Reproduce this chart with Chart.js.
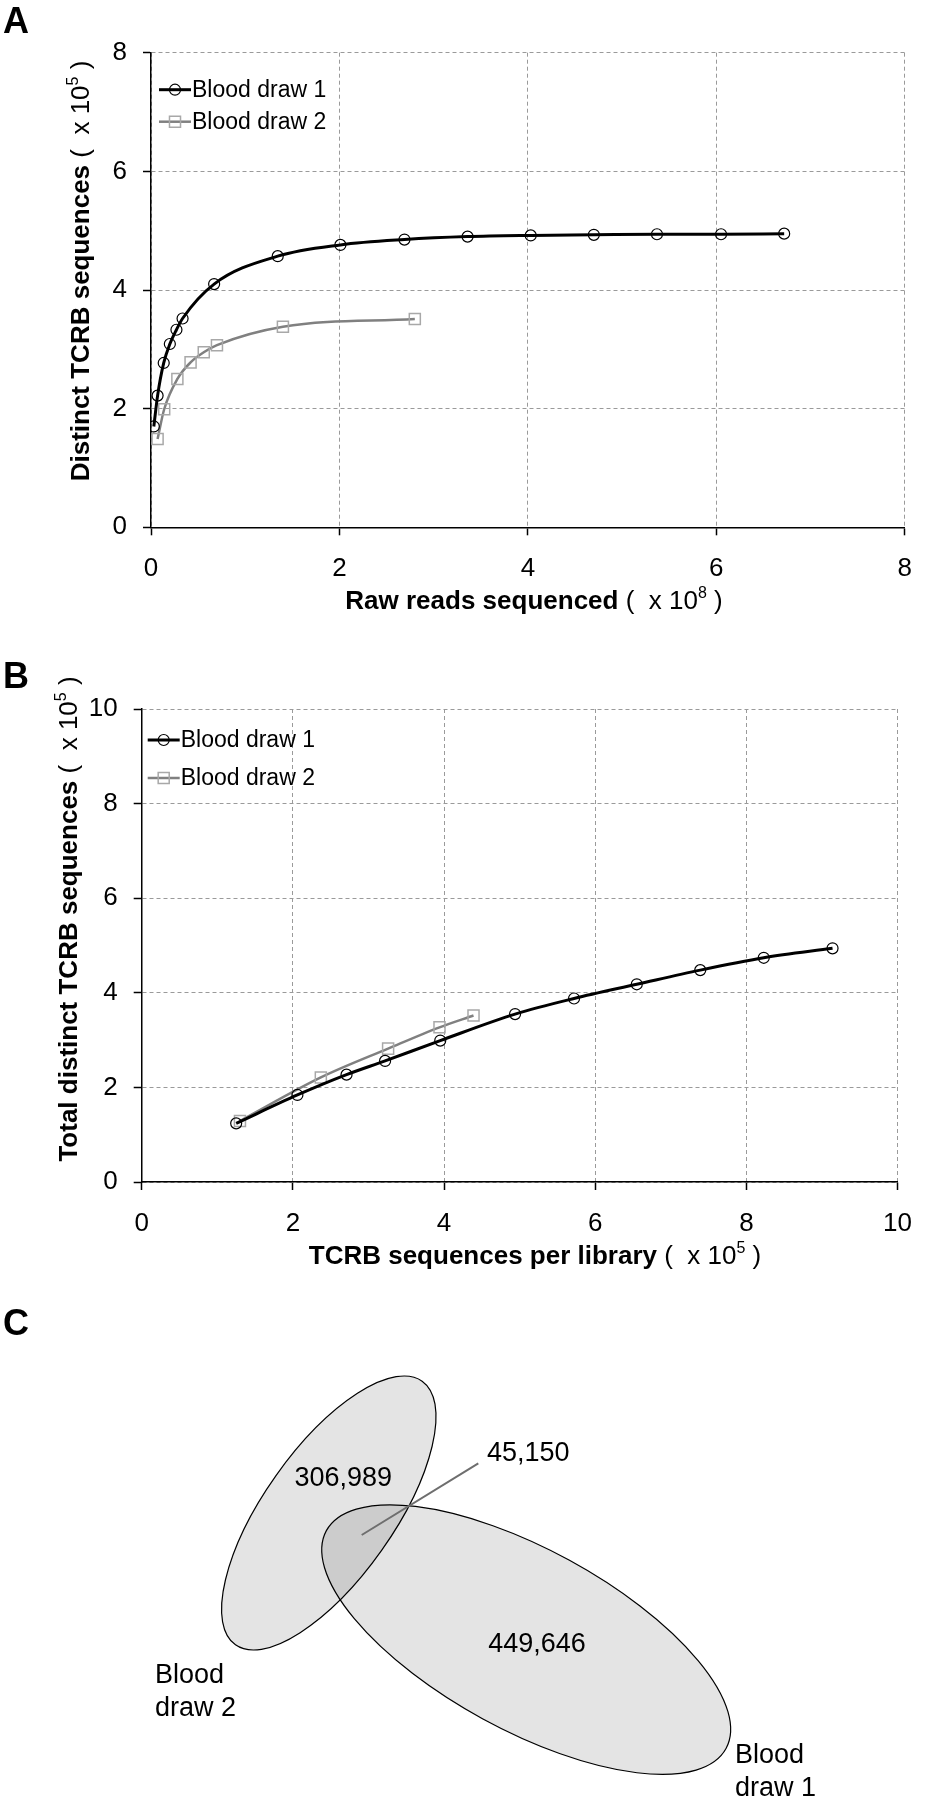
<!DOCTYPE html>
<html>
<head>
<meta charset="utf-8">
<title>TCRB sequencing depth</title>
<script src="https://cdn.jsdelivr.net/npm/chart.js"></script>
<style>
  body { margin: 0; background: #fff; }
  #page { position: relative; width: 930px; height: 1800px; }
  #page canvas { position: absolute; left: 0; }
</style>
</head>
<body>
<div id="page">
  <canvas id="chartA" width="930" height="640" style="top:0"></canvas>
  <canvas id="chartB" width="930" height="650" style="top:640px"></canvas>
  <canvas id="chartC" width="930" height="510" style="top:1290px"></canvas>
</div>
<script>
// ---- data ----
const seriesNames = ['Blood draw 1', 'Blood draw 2'];

// A: raw reads sequenced (x 10^8) vs distinct TCRB sequences (x 10^5)
const rawReads1 = [0.03, 0.07, 0.135, 0.2, 0.27, 0.335, 0.67, 1.345, 2.01, 2.69, 3.36, 4.03, 4.7, 5.37, 6.05, 6.72];
const distinct1 = [1.70, 2.22, 2.77, 3.09, 3.33, 3.52, 4.10, 4.57, 4.76, 4.85, 4.90, 4.92, 4.93, 4.94, 4.94, 4.95];
const rawReads2 = [0.07, 0.14, 0.28, 0.42, 0.56, 0.70, 1.40, 2.80];
const distinct2 = [1.49, 1.99, 2.50, 2.78, 2.95, 3.07, 3.38, 3.51];
const ticksA_x = [0, 2, 4, 6, 8];
const ticksA_y = [0, 2, 4, 6, 8];

// B: TCRB sequences per library (x 10^5) vs total distinct TCRB sequences (x 10^5)
const perLibrary1 = [1.25, 2.06, 2.71, 3.22, 3.95, 4.94, 5.72, 6.55, 7.39, 8.23, 9.14];
const totalDistinct1 = [1.24, 1.84, 2.27, 2.56, 2.99, 3.55, 3.88, 4.18, 4.48, 4.74, 4.94];
const perLibrary2 = [1.30, 2.37, 3.26, 3.94, 4.39];
const totalDistinct2 = [1.29, 2.21, 2.82, 3.27, 3.52];
const ticksB_x = [0, 2, 4, 6, 8, 10];
const ticksB_y = [0, 2, 4, 6, 8, 10];

// C: overlap of distinct sequences
const vennRegions = ['Blood draw 2 only', 'Both', 'Blood draw 1 only'];
const vennCounts = [306989, 45150, 449646];

// ---- helpers ----
const FONT = '"Liberation Sans", Arial, sans-serif';
const font = (size, weight) => `${weight || 'normal'} ${size}px ${FONT}`;
Chart.defaults.font.family = FONT;
Chart.defaults.color = '#000';

function toPoints(xs, ys) {
    return xs.map((x, i) => ({ x: x, y: ys[i] }));
}

// draws a run of text pieces (bold / normal / superscript) centred on x,y
function drawRich(ctx, item) {
    ctx.save();
    ctx.translate(item.x, item.y);
    if (item.rotate) ctx.rotate(-Math.PI / 2);
    ctx.fillStyle = '#000';
    ctx.textBaseline = 'alphabetic';
    ctx.textAlign = 'left';
    let total = 0;
    const widths = item.parts.map(p => {
        ctx.font = p.font;
        const w = ctx.measureText(p.text).width;
        total += w;
        return w;
    });
    let cx = item.align === 'left' ? 0 : -total / 2;
    item.parts.forEach((p, i) => {
        ctx.font = p.font;
        ctx.fillText(p.text, cx, p.dy || 0);
        cx += widths[i];
    });
    ctx.restore();
}

function textPlugin(items) {
    return {
        id: 'panelText',
        afterDraw(chart) {
            items.forEach(it => drawRich(chart.ctx, it));
        }
    };
}

// legend inside the plot: line sample with its marker, then the name
function insideLegend(cfg) {
    return {
        id: 'insideLegend',
        afterDraw(chart) {
            const { ctx, chartArea } = chart;
            chart.data.datasets.forEach((ds, i) => {
                const x0 = chartArea.left + cfg.left;
                const y = chartArea.top + cfg.top + i * cfg.gap;
                ctx.save();
                ctx.strokeStyle = ds.borderColor;
                ctx.lineWidth = ds.borderWidth;
                ctx.beginPath();
                ctx.moveTo(x0, y);
                ctx.lineTo(x0 + 32, y);
                ctx.stroke();
                ctx.strokeStyle = ds.pointBorderColor;
                ctx.lineWidth = ds.pointBorderWidth;
                ctx.beginPath();
                if (ds.pointStyle === 'rect') {
                    const h = ds.pointRadius * Math.SQRT1_2;
                    ctx.rect(x0 + 16 - h, y - h, 2 * h, 2 * h);
                } else {
                    ctx.arc(x0 + 16, y, ds.pointRadius, 0, Math.PI * 2);
                }
                ctx.stroke();
                ctx.fillStyle = '#000';
                ctx.font = font(23);
                ctx.textBaseline = 'middle';
                ctx.fillText(ds.label, x0 + 33, y + 1);
                ctx.restore();
            });
        }
    };
}

const draw1Style = {
    borderColor: '#000', borderWidth: 3,
    pointStyle: 'circle', pointRadius: 5.5, pointBorderWidth: 1.2,
    pointBorderColor: '#000', pointBackgroundColor: 'rgba(0,0,0,0)',
    showLine: true, fill: false, cubicInterpolationMode: 'monotone'
};
const draw2Style = {
    borderColor: '#808080', borderWidth: 2.5,
    pointStyle: 'rect', pointRadius: 7.8, pointBorderWidth: 1.5,
    pointBorderColor: '#a8a8a8', pointBackgroundColor: 'rgba(0,0,0,0)',
    showLine: true, fill: false, cubicInterpolationMode: 'monotone'
};

function axis(tickValues, padding, fitFn) {
    return {
        type: 'linear',
        min: tickValues[0],
        max: tickValues[tickValues.length - 1],
        afterBuildTicks: s => { s.ticks = tickValues.map(v => ({ value: v })); },
        afterFit: fitFn,
        ticks: { padding: padding, font: { size: 26 }, color: '#000' },
        grid: { color: '#9a9a9a', lineWidth: 1, tickLength: 8, tickColor: '#000', tickWidth: 1.5, tickBorderDash: [] },
        border: { color: '#000', width: 1.5, dash: [4, 3] }
    };
}

function lineChart(id, box, xTicks, yTicks, datasets, legendCfg, texts) {
    return new Chart(document.getElementById(id), {
        type: 'scatter',
        data: { datasets: datasets },
        options: {
            responsive: false,
            animation: false,
            layout: { padding: { left: 0, top: box.top, right: box.w - box.right, bottom: 0 } },
            scales: {
                x: axis(xTicks, 18, s => { s.height = box.h - box.bottom; }),
                y: axis(yTicks, 16, s => { s.width = box.left; })
            },
            plugins: { legend: { display: false }, tooltip: { enabled: false } }
        },
        plugins: [insideLegend(legendCfg), textPlugin(texts)]
    });
}

const sup = t => ({ text: t, font: font(16), dy: -11 });

// ---- panel A ----
lineChart('chartA', { w: 930, h: 640, left: 151, right: 908, top: 52.7, bottom: 527.3 },
    ticksA_x, ticksA_y,
    [
        Object.assign({ label: seriesNames[0], data: toPoints(rawReads1, distinct1) }, draw1Style),
        Object.assign({ label: seriesNames[1], data: toPoints(rawReads2, distinct2) }, draw2Style)
    ],
    { left: 8, top: 37, gap: 32 },
    [
        { parts: [{ text: 'A', font: font(36, 'bold') }], x: 3, y: 33, align: 'left' },
        { parts: [{ text: 'Distinct TCRB sequences', font: font(26, 'bold') }, { text: ' (  x 10', font: font(26) }, sup('5'), { text: ' )', font: font(26) }],
          x: 89, y: 271, rotate: true },
        { parts: [{ text: 'Raw reads sequenced', font: font(26, 'bold') }, { text: ' (  x 10', font: font(26) }, sup('8'), { text: ' )', font: font(26) }],
          x: 534, y: 609 }
    ]);

// ---- panel B ----
lineChart('chartB', { w: 930, h: 650, left: 141.7, right: 915, top: 69, bottom: 542 },
    ticksB_x, ticksB_y,
    [
        Object.assign({ label: seriesNames[0], data: toPoints(perLibrary1, totalDistinct1) }, draw1Style),
        Object.assign({ label: seriesNames[1], data: toPoints(perLibrary2, totalDistinct2) }, draw2Style)
    ],
    { left: 6, top: 31, gap: 38 },
    [
        { parts: [{ text: 'B', font: font(36, 'bold') }], x: 3, y: 48, align: 'left' },
        { parts: [{ text: 'Total distinct TCRB sequences', font: font(26, 'bold') }, { text: ' (  x 10', font: font(26) }, sup('5'), { text: ' )', font: font(26) }],
          x: 77, y: 279, rotate: true },
        { parts: [{ text: 'TCRB sequences per library', font: font(26, 'bold') }, { text: ' (  x 10', font: font(26) }, sup('5'), { text: ' )', font: font(26) }],
          x: 535, y: 624 }
    ]);

// ---- panel C: two-set Venn diagram ----
const vennPlugin = {
    id: 'venn',
    afterDraw(chart) {
        const { ctx, scales: { x, y } } = chart;
        const px = v => x.getPixelForValue(v);
        const py = v => y.getPixelForValue(v);
        // layout of the diagram in scale units
        const sets = [
            { cx: 328.8, cy: 223, a: 161.5, b: 64.7, rot: -54.7 },   // Blood draw 2
            { cx: 526.2, cy: 349.6, a: 227.6, b: 90.4, rot: 28.6 }   // Blood draw 1
        ];
        const path = e => {
            ctx.beginPath();
            ctx.ellipse(px(e.cx), py(e.cy), px(e.cx + e.a) - px(e.cx), py(e.cy + e.b) - py(e.cy),
                e.rot * Math.PI / 180, 0, Math.PI * 2);
        };
        ctx.save();
        sets.forEach(e => { path(e); ctx.fillStyle = 'rgba(0,0,0,0.105)'; ctx.fill(); });
        sets.forEach(e => { path(e); ctx.strokeStyle = '#000'; ctx.lineWidth = 1.2; ctx.stroke(); });

        // leader line for the overlap count
        ctx.strokeStyle = '#6e6e6e';
        ctx.lineWidth = 2;
        ctx.beginPath();
        ctx.moveTo(px(478.3), py(173.3));
        ctx.lineTo(px(361.7), py(245));
        ctx.stroke();
        ctx.restore();

        const fmt = n => n.toLocaleString('en-US');
        const labelPos = [
            { x: 343.3, y: 196, align: 'center' },
            { x: 487, y: 171, align: 'left' },
            { x: 537, y: 361.5, align: 'center' }
        ];
        vennCounts.forEach((n, i) => {
            const p = labelPos[i];
            drawRich(ctx, { parts: [{ text: fmt(n), font: font(27) }], x: px(p.x), y: py(p.y), align: p.align });
        });
        const names = [
            { lines: ['Blood', 'draw 2'], x: 155, y: 393 },
            { lines: ['Blood', 'draw 1'], x: 735, y: 473 }
        ];
        names.forEach(nm => nm.lines.forEach((t, j) => {
            drawRich(ctx, { parts: [{ text: t, font: font(27) }], x: px(nm.x), y: py(nm.y + j * 33), align: 'left' });
        }));
        drawRich(ctx, { parts: [{ text: 'C', font: font(36, 'bold') }], x: 3, y: 45, align: 'left' });
    }
};

new Chart(document.getElementById('chartC'), {
    type: 'scatter',
    data: { labels: vennRegions, datasets: [] },
    options: {
        responsive: false,
        animation: false,
        layout: { padding: 0 },
        scales: {
            x: { type: 'linear', min: 0, max: 930, display: false },
            y: { type: 'linear', min: 0, max: 510, reverse: true, display: false }
        },
        plugins: { legend: { display: false }, tooltip: { enabled: false } }
    },
    plugins: [vennPlugin]
});
</script>
</body>
</html>
